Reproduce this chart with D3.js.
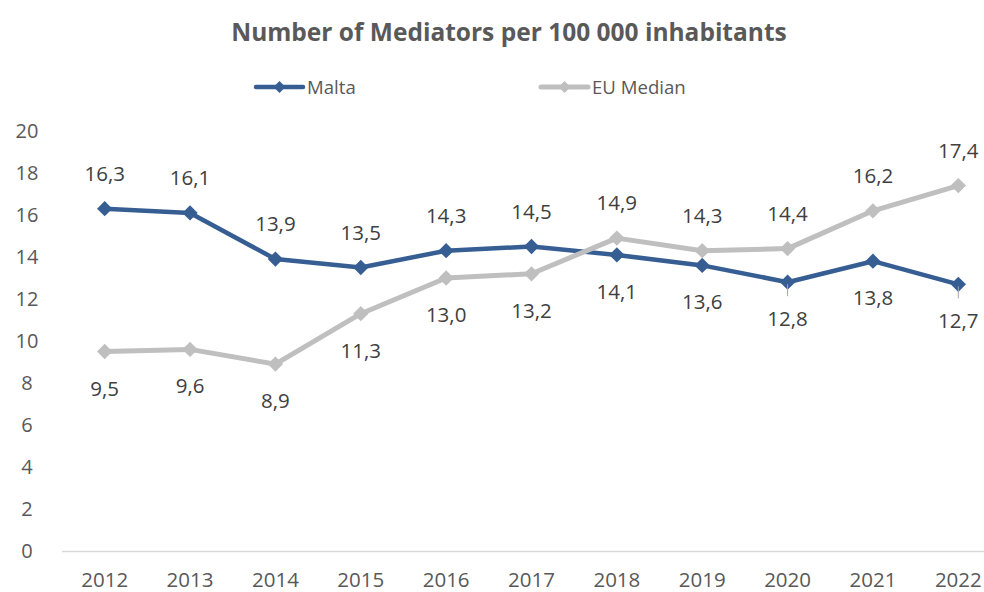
<!DOCTYPE html>
<html>
<head>
<meta charset="utf-8">
<script src="https://cdn.jsdelivr.net/npm/d3@7"></script>
<style>
  html, body { margin: 0; padding: 0; background: #fff; }
  svg { display: block; font-family: "Open Sans", sans-serif; }
</style>
</head>
<body>
<svg id="chart" width="984" height="592"></svg>
<script>
// Chart data
const years = ["2012","2013","2014","2015","2016","2017","2018","2019","2020","2021","2022"];
const malta = [16.3, 16.1, 13.9, 13.5, 14.3, 14.5, 14.1, 13.6, 12.8, 13.8, 12.7];
const euMedian = [9.5, 9.6, 8.9, 11.3, 13.0, 13.2, 14.9, 14.3, 14.4, 16.2, 17.4];
const yTicks = [0, 2, 4, 6, 8, 10, 12, 14, 16, 18, 20];
// label placement: true = above the point
const maltaAbove = [true, true, true, true, true, true, false, false, false, false, false];
const euAbove = [false, false, false, false, false, false, true, true, true, true, true];

const title = "Number of Mediators per 100 000 inhabitants";
const series = [
  { name: "Malta", values: malta, above: maltaAbove, color: "#365E93", width: 4.5, leaders: [8, 10] },
  { name: "EU Median", values: euMedian, above: euAbove, color: "#BFBFBF", width: 5, leaders: [] }
];

const FONT = "'Open Sans', sans-serif";
const svg = d3.select("#chart");

const x = d3.scaleBand().domain(years).range([62, 1001]);
const y = d3.scaleLinear().domain([0, 20]).range([551, 131]);
const fmt = v => d3.format(".1f")(v).replace(".", ",");

// Title
svg.append("text")
  .attr("x", 509).attr("y", 41)
  .attr("text-anchor", "middle")
  .attr("font-size", 24.5).attr("font-weight", "bold")
  .attr("fill", "#595959")
  .text(title);

// Legend
const legendPos = [{ x: 256 }, { x: 541 }];
const diamond = d3.symbol().type(d3.symbolDiamond2);
series.forEach((s, i) => {
  const g = svg.append("g").attr("transform", `translate(${legendPos[i].x},87)`);
  g.append("line").attr("x1", 0).attr("x2", 47).attr("y1", 0).attr("y2", 0)
    .attr("stroke", s.color).attr("stroke-width", s.width).attr("stroke-linecap", "round");
  g.append("path").attr("d", diamond.size(90)()).attr("transform", "translate(23.5,0)").attr("fill", s.color);
  g.append("text").attr("x", 51).attr("y", 7).attr("font-size", 18.6).attr("fill", "#595959").text(s.name);
});

// Y axis labels (no axis line, no gridlines)
const yAxis = d3.axisLeft(y).tickValues(yTicks).tickSize(0).tickPadding(0);
const yg = svg.append("g").attr("transform", "translate(27,0)").call(yAxis);
yg.select(".domain").remove();
yg.selectAll("text").attr("font-size", 20).attr("fill", "#595959")
  .attr("font-family", FONT)
  .attr("text-anchor", "middle").attr("x", 0);

// X axis
const xAxis = d3.axisBottom(x).tickSize(0).tickPadding(21);
const xg = svg.append("g").attr("transform", "translate(0,551)").call(xAxis);
xg.select(".domain").attr("stroke", "#D9D9D9").attr("stroke-width", 1.3)
  .attr("d", "M62,0.5H984");
xg.selectAll("text").attr("font-size", 20.5).attr("fill", "#595959")
  .attr("font-family", FONT);

// Series lines and markers
const cx = d => x(d) + x.bandwidth() / 2;
series.forEach(s => {
  const pts = years.map((yr, i) => [cx(yr), y(s.values[i])]);
  svg.append("path")
    .attr("d", d3.line()(pts))
    .attr("fill", "none").attr("stroke", s.color)
    .attr("stroke-width", s.width).attr("stroke-linejoin", "round");
  svg.append("g").selectAll("path").data(pts).join("path")
    .attr("d", diamond.size(150)())
    .attr("transform", p => `translate(${p[0]},${p[1]})`)
    .attr("fill", s.color);
});

// Leader lines for labels that sit close to their points
series.forEach(s => {
  s.leaders.forEach(i => {
    const px = cx(years[i]), py = y(s.values[i]);
    svg.append("line").attr("x1", px).attr("x2", px).attr("y1", py + 2).attr("y2", py + 14)
      .attr("stroke", "#A6A6A6").attr("stroke-width", 1);
  });
});

// Value labels
series.forEach(s => {
  svg.append("g").selectAll("text").data(s.values).join("text")
    .attr("x", (v, i) => cx(years[i]))
    .attr("y", (v, i) => y(v) + (s.above[i] ? -28 : 44))
    .attr("text-anchor", "middle")
    .attr("font-size", 20.5).attr("fill", "#404040")
    .text(v => fmt(v));
});
</script>
</body>
</html>
